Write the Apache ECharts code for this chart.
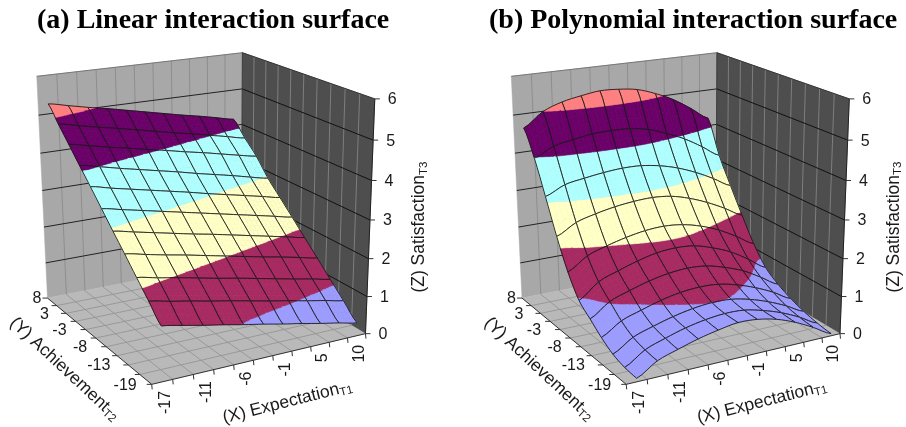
<!DOCTYPE html>
<html><head><meta charset="utf-8">
<style>html,body{margin:0;padding:0;background:#fff}#c{width:906px;height:427px}</style>
<script src="https://cdn.jsdelivr.net/npm/echarts@6/dist/echarts.min.js"></script>
</head><body><div id="c"></div>
<script>
const xLabels = ['-17','-11','-6','-1','5','10'];
const yLabels = ['8','3','-3','-8','-13','-19'];
const zLabels = ['0','1','2','3','4','5','6'];
const titleA = '(a) Linear interaction surface';
const titleB = '(b) Polynomial interaction surface';
// rows: Achievement from 8 to -19; columns: Expectation from -17 to 10
const linearZ = [
[5.26,5.15,5.04,4.94,4.83,4.72,4.61,4.50,4.40,4.29,4.18],
[4.87,4.76,4.65,4.55,4.44,4.33,4.22,4.12,4.01,3.90,3.79],
[4.49,4.38,4.27,4.17,4.06,3.96,3.85,3.75,3.64,3.53,3.43],
[4.10,3.99,3.87,3.76,3.65,3.54,3.42,3.31,3.20,3.08,2.97],
[3.72,3.60,3.49,3.38,3.27,3.16,3.04,2.93,2.82,2.71,2.60],
[3.33,3.22,3.11,3.00,2.89,2.78,2.67,2.56,2.45,2.34,2.23],
[2.94,2.83,2.72,2.61,2.50,2.40,2.29,2.18,2.07,1.96,1.85],
[2.56,2.45,2.34,2.24,2.13,2.02,1.91,1.80,1.70,1.59,1.48],
[2.17,2.06,1.96,1.85,1.74,1.64,1.53,1.42,1.31,1.21,1.10],
[1.79,1.68,1.58,1.47,1.37,1.26,1.15,1.05,0.94,0.84,0.73],
[1.40,1.30,1.19,1.09,0.98,0.88,0.77,0.67,0.56,0.46,0.35]];
const polynomialZ = [
[4.63,4.99,5.18,5.28,5.35,5.33,5.26,5.09,4.86,4.55,4.21],
[3.98,4.22,4.32,4.40,4.42,4.40,4.31,4.13,3.91,3.62,3.30],
[3.13,3.36,3.45,3.52,3.56,3.55,3.47,3.33,3.13,2.88,2.60],
[2.25,2.53,2.67,2.77,2.83,2.85,2.80,2.66,2.46,2.21,1.93],
[1.50,1.83,2.00,2.13,2.22,2.25,2.20,2.07,1.87,1.60,1.30],
[0.95,1.34,1.53,1.69,1.81,1.85,1.81,1.66,1.45,1.15,0.82],
[0.68,1.03,1.21,1.36,1.46,1.50,1.46,1.32,1.13,0.85,0.55],
[0.42,0.74,0.91,1.06,1.16,1.20,1.17,1.05,0.87,0.64,0.36],
[0.22,0.54,0.71,0.85,0.95,1.00,0.98,0.87,0.70,0.48,0.22],
[0.12,0.45,0.63,0.78,0.88,0.93,0.91,0.79,0.62,0.39,0.12],
[0.09,0.41,0.58,0.73,0.84,0.92,0.89,0.78,0.59,0.34,0.06]];

const bandColors = ['#9c9cff','#a82a62','#ffffc6','#b0ffff','#6a0068','#ff8080'];
const NX = 11, NY = 11, ZMAX = 6, SUB = 4;
const sans = '"Liberation Sans", Arial, sans-serif';
const yGap = [6,17,19,19,18,15];

// Camera of the box: image of box corners (u along X, v along Y, w along Z)
const boxCorners = [
 [0,0,0, 47,296],[0,0,1, 37,77],[1,0,1, 242,52],[1,0,0, 242,262],
 [0,1,0, 152,386],[1,1,0, 365,332],[1,1,1, 375,99]];
function fitCamera(c){
  const S=400, n=11, A=[], b=[];
  c.forEach(([u,v,w,x,y])=>{
    x/=S;y/=S;
    A.push([u,v,w,1,0,0,0,0,-x*u,-x*v,-x*w]);b.push(x);
    A.push([0,0,0,0,u,v,w,1,-y*u,-y*v,-y*w]);b.push(y);
  });
  const M=[];
  for(let r=0;r<n;r++){const row=[];for(let k=0;k<n;k++){let s=0;for(let i=0;i<A.length;i++)s+=A[i][r]*A[i][k];row.push(s);}
    let s=0;for(let i=0;i<A.length;i++)s+=A[i][r]*b[i];row.push(s);M.push(row);}
  for(let i=0;i<n;i++){let p=i;for(let r=i+1;r<n;r++)if(Math.abs(M[r][i])>Math.abs(M[p][i]))p=r;
    [M[i],M[p]]=[M[p],M[i]];
    for(let r=0;r<n;r++){if(r===i)continue;const f=M[r][i]/M[i][i];for(let k=i;k<=n;k++)M[r][k]-=f*M[i][k];}}
  const p=M.map((r,i)=>r[n]/r[i]);
  return (u,v,w)=>{const d=p[8]*u+p[9]*v+p[10]*w+1;
    return [S*(p[0]*u+p[1]*v+p[2]*w+p[3])/d, S*(p[4]*u+p[5]*v+p[6]*w+p[7])/d];};
}
const cam = fitCamera(boxCorners);

function cr(a,b,c,d,t){return 0.5*(2*b+(c-a)*t+(2*a-5*b+4*c-d)*t*t+(3*b-a-3*c+d)*t*t*t);}
function evalZ(Z,s,t){
  const i=Math.min(Math.floor(s),NX-2), j=Math.min(Math.floor(t),NY-2), fs=s-i, ft=t-j;
  const g=(r,q)=>Z[Math.max(0,Math.min(NY-1,r))][Math.max(0,Math.min(NX-1,q))];
  const row=r=>cr(g(r,i-1),g(r,i),g(r,i+1),g(r,i+2),fs);
  return Math.max(0,cr(row(j-1),row(j),row(j+1),row(j+2),ft));
}
function clip(poly,lim,keepAbove){
  const out=[];
  for(let k=0;k<poly.length;k++){
    const a=poly[k],b=poly[(k+1)%poly.length];
    const ia=keepAbove?a[2]>=lim:a[2]<=lim, ib=keepAbove?b[2]>=lim:b[2]<=lim;
    if(ia)out.push(a);
    if(ia!==ib){const f=(lim-a[2])/(b[2]-a[2]);out.push([a[0]+f*(b[0]-a[0]),a[1]+f*(b[1]-a[1]),lim]);}
  }
  return out;
}

function frameItem(dx,api){
  const P=(u,v,z)=>{const q=cam(u,v,z/ZMAX);return api.coord([q[0]+dx,q[1]]);};
  const kids=[];
  const poly=(pts,fill)=>kids.push({type:'polygon',shape:{points:pts},style:{fill,stroke:fill,lineWidth:0.5}});
  const line=(a,b,stroke,w)=>kids.push({type:'line',shape:{x1:a[0],y1:a[1],x2:b[0],y2:b[1]},style:{stroke,lineWidth:w}});
  poly([P(0,0,0),P(1,0,0),P(1,0,6),P(0,0,6)],'#a8a8a8');
  poly([P(1,0,0),P(1,1,0),P(1,1,6),P(1,0,6)],'#4e4e4e');
  poly([P(0,0,0),P(1,0,0),P(1,1,0),P(0,1,0)],'#b9b9b9');
  for(let i=1;i<NX;i++){const u=i/NX;
    line(P(u,0,0),P(u,0,6),'#8e8e8e',1);
    line(P(u,0,0),P(u,1,0),'#909090',0.8);
  }
  for(let j=1;j<NY-1;j++){const v=j/(NY-1);
    line(P(1,v,0),P(1,v,6),'#7e7e7e',1);
    line(P(0,v,0),P(1,v,0),'#909090',0.8);
  }
  for(let z=1;z<ZMAX;z++){
    line(P(0,0,z),P(1,0,z),'#222',1);
    line(P(1,0,z),P(1,1,z),'#111',1);
  }
  line(P(0,0,6),P(1,0,6),'#777',1);
  line(P(1,0,6),P(1,1,6),'#333',1);
  line(P(1,0,0),P(1,0,6),'#333',0.8);
  line(P(0,0,0),P(0,1,0),'#333',1);
  line(P(0,1,0),P(1,1,0),'#333',1);
  line(P(1,1,0),P(1,1,6),'#222',1);
  const txt=(t,x,y,o)=>kids.push(Object.assign({type:'text',x,y,rotation:o.rot||0,
     style:Object.assign({text:t,fill:'#1a1a1a',font:(o.size||16)+'px '+sans,align:o.align||'center',verticalAlign:'middle'},o.rich?{rich:o.rich}:{})}));
  // ticks and labels
  for(let i=0;i<=NX;i++){const u=i/NX,a=P(u,1,0);line(a,[a[0]+0.5,a[1]+5],'#333',1);}
  xLabels.forEach((t,k)=>{const a=P((2*k+0.5)/NX,1,0);txt(t,a[0]+3,a[1]+9,{rot:Math.PI/2,align:'right'});});
  for(let j=0;j<NY;j++){const a=P(0,j/(NY-1),0);line(a,[a[0]-5,a[1]],'#333',1);}
  yLabels.forEach((t,k)=>{const a=P(0,2*k/(NY-1),0);txt(t,a[0]-yGap[k],a[1]+1,{align:'right'});});
  zLabels.forEach((t,k)=>{const a=P(1,1,k);line(a,[a[0]+5,a[1]],'#333',1);txt(t,a[0]+13,a[1]+1,{align:'left'});});
  const sub={s:{fontSize:11.5,fontFamily:'Liberation Sans',fill:'#1a1a1a',verticalAlign:'bottom',padding:[8,0,0,0]}};
  const base=P(0,0,0);
  txt('(Z) Satisfaction{s|T3}',base[0]-47+419,base[1]-296+225,{rot:Math.PI/2,size:17.5,rich:sub});
  txt('(X) Expectation{s|T1}',base[0]-47+287,base[1]-296+400,{rot:0.248,size:17.5,rich:sub});
  txt('(Y) Achievement{s|T2}',base[0]-47+64,base[1]-296+367,{rot:-0.75,size:17.5,rich:sub});
  return {type:'group',children:kids};
}

function cellItem(Z,dx,i,j,api){
  const P=(s,t,z)=>{const q=cam((s+0.5)/NX,t/(NY-1),z/ZMAX);return api.coord([q[0]+dx,q[1]]);};
  const kids=[];
  for(let b=0;b<SUB;b++) for(let a=SUB-1;a>=0;a--){
    const s0=i+a/SUB,s1=i+(a+1)/SUB,t0=j+b/SUB,t1=j+(b+1)/SUB;
    const q=[[s0,t0],[s1,t0],[s1,t1],[s0,t1]].map(p=>[p[0],p[1],evalZ(Z,p[0],p[1])]);
    const lo=Math.min(q[0][2],q[1][2],q[2][2],q[3][2]),hi=Math.max(q[0][2],q[1][2],q[2][2],q[3][2]);
    for(let k=Math.floor(lo);k<=Math.min(Math.floor(hi),bandColors.length-1);k++){
      let pg=clip(clip(q,k,true),k+1,false);
      if(pg.length<3)continue;
      kids.push({type:'polygon',shape:{points:pg.map(p=>P(p[0],p[1],p[2]))},
        style:{fill:bandColors[k],stroke:bandColors[k],lineWidth:0.6}});
    }
  }
  const edge=(fn)=>{const pts=[];for(let n=0;n<=SUB;n++){const c=fn(n/SUB);pts.push(P(c[0],c[1],evalZ(Z,c[0],c[1])));}
    kids.push({type:'polyline',shape:{points:pts},style:{stroke:'#1a1a1a',lineWidth:0.9,fill:null}});};
  edge(f=>[i+f,j]);edge(f=>[i+f,j+1]);edge(f=>[i,j+f]);edge(f=>[i+1,j+f]);
  return {type:'group',children:kids};
}

const panels=[{zs:linearZ,dx:0},{zs:polynomialZ,dx:474.5}];
const series=[];
panels.forEach(p=>{
  series.push({type:'custom',silent:true,clip:false,data:[[0,0]],renderItem:(ps,api)=>frameItem(p.dx,api)});
  const cells=[];
  for(let j=0;j<NY-1;j++)for(let i=NX-2;i>=0;i--)cells.push([i,j,p.zs[j][i]]);
  series.push({type:'custom',silent:true,clip:false,progressive:0,data:cells,
    renderItem:(ps,api)=>cellItem(p.zs,p.dx,api.value(0),api.value(1),api)});
});
const chart=echarts.init(document.getElementById('c'),null,{renderer:'canvas'});
const tStyle={fontFamily:'"Liberation Serif","Times New Roman",serif',fontWeight:'bold',fontSize:28,color:'#000'};
chart.setOption({
  animation:false,backgroundColor:'#fff',
  title:[{text:titleA,left:37,top:7,padding:0,textStyle:tStyle},{text:titleB,left:489,top:7,padding:0,textStyle:tStyle}],
  grid:{left:0,right:0,top:0,bottom:0},
  xAxis:{type:'value',min:0,max:906,show:false},
  yAxis:{type:'value',min:0,max:427,inverse:true,show:false},
  tooltip:{show:false},
  series
});
</script></body></html>
